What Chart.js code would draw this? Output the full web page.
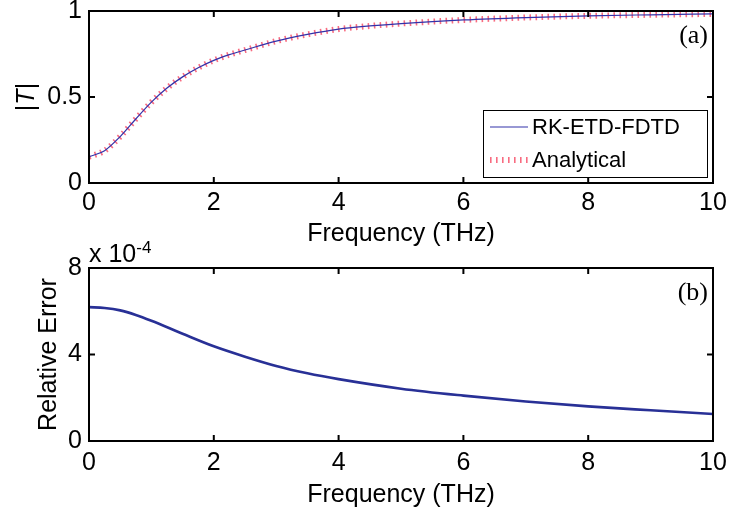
<!DOCTYPE html>
<html>
<head>
<meta charset="utf-8">
<script src="https://cdn.jsdelivr.net/npm/chart.js@4.4.0/dist/chart.umd.min.js"></script>
<style>
html, body { margin: 0; padding: 0; background: #fff; }
#wrap { position: relative; width: 730px; height: 511px; }
canvas { position: absolute; left: 0; }
</style>
</head>
<body>
<div id="wrap">
    <canvas id="chart-t" width="730" height="250" style="top:0"></canvas>
    <canvas id="chart-err" width="730" height="281" style="top:230px"></canvas>
</div>
<script>
// (a) transmission magnitude |T| vs frequency (THz)
const freqT = [0, 0.25, 0.5, 0.75, 1, 1.25, 1.5, 1.75, 2, 2.25, 2.5, 3, 3.5, 4, 4.5, 5, 6, 7, 8, 9, 10]
const rkT = [0.153, 0.188, 0.27, 0.372, 0.47, 0.552, 0.617, 0.67, 0.713, 0.746, 0.773, 0.825, 0.864, 0.895, 0.913, 0.927, 0.948, 0.962, 0.972, 0.978, 0.983]
const analyticalT = [0.153, 0.188, 0.27, 0.372, 0.47, 0.552, 0.617, 0.67, 0.713, 0.746, 0.773, 0.825, 0.864, 0.895, 0.913, 0.927, 0.948, 0.962, 0.972, 0.978, 0.983]

// (b) relative error, in units of 1e-4
const freqErr = [0, 0.25, 0.5, 0.75, 1, 1.5, 2, 2.5, 3, 3.5, 4, 5, 6, 7, 8, 9, 10]
const relErr = [6.19, 6.15, 6.04, 5.83, 5.56, 4.96, 4.38, 3.9, 3.47, 3.13, 2.86, 2.42, 2.1, 1.83, 1.6, 1.42, 1.25]

const xTicks = [0, 2, 4, 6, 8, 10]
const tTicks = [0, 0.5, 1]
const errTicks = [0, 4, 8]

const sans = "'Liberation Sans', Arial, Helvetica, sans-serif"
const serif = "'Liberation Serif', 'Times New Roman', serif"
const blue = "rgb(50,50,170)", navy = "rgb(40,48,150)", red = "rgba(245,45,75,0.7)"

const zip = (xs, ys) => xs.map((x, i) => ({ x, y: ys[i] }))

// MATLAB-style box, inward ticks, titles and legend
const frame = {
    id: "frame",
    afterDatasetsDraw(chart, args, o) {
        const { ctx, chartArea: a, scales: { x, y } } = chart
        ctx.save()
        ctx.strokeStyle = "#000"
        ctx.lineWidth = 2
        ctx.beginPath()
        for (const v of xTicks) {
            const px = x.getPixelForValue(v)
            ctx.moveTo(px, a.bottom); ctx.lineTo(px, a.bottom - 6)
            ctx.moveTo(px, a.top); ctx.lineTo(px, a.top + 6)
        }
        for (const v of o.yTicks) {
            const py = y.getPixelForValue(v)
            ctx.moveTo(a.left, py); ctx.lineTo(a.left + 6, py)
            ctx.moveTo(a.right, py); ctx.lineTo(a.right - 6, py)
        }
        ctx.stroke()
        ctx.strokeRect(a.left, a.top, a.right - a.left, a.bottom - a.top)

        ctx.fillStyle = "#000"
        ctx.textBaseline = "middle"

        // x title
        ctx.font = `25px ${sans}`
        ctx.textAlign = "center"
        ctx.fillText("Frequency (THz)", (a.left + a.right) / 2, o.xTitleY)

        // y title (rotated), built from pieces so |T| can use an italic T
        ctx.save()
        ctx.translate(o.yTitleX, (a.top + a.bottom) / 2)
        ctx.rotate(-Math.PI / 2)
        ctx.textAlign = "left"
        let w = 0
        for (const p of o.yTitle) { ctx.font = `${p.style || ""}25px ${sans}`; w += ctx.measureText(p.text).width }
        let cx = -w / 2
        for (const p of o.yTitle) {
            ctx.font = `${p.style || ""}25px ${sans}`
            ctx.fillText(p.text, cx, 0)
            cx += ctx.measureText(p.text).width
        }
        ctx.restore()

        // panel label
        ctx.font = `26px ${serif}`
        ctx.textAlign = "right"
        ctx.fillText(o.panel, a.right - 5, a.top + 25)

        // exponent label
        if (o.exponent) {
            ctx.textAlign = "left"
            ctx.textBaseline = "alphabetic"
            ctx.font = `25px ${sans}`
            ctx.fillText("x 10", a.left, a.top - 6)
            const ew = ctx.measureText("x 10").width
            ctx.font = `17px ${sans}`
            ctx.fillText(o.exponent, a.left + ew, a.top - 15)
        }

        // legend
        if (o.legend) {
            const L = o.legend
            ctx.lineWidth = 1
            ctx.strokeRect(L.x + 0.5, L.y + 0.5, L.w, L.h)
            ctx.font = `22px ${sans}`
            ctx.textAlign = "left"
            ctx.textBaseline = "middle"
            chart.data.datasets.forEach((ds, i) => {
                const ry = L.y + 17 + i * 33
                ctx.save()
                ctx.strokeStyle = ds.borderColor
                ctx.lineWidth = ds.borderWidth
                ctx.setLineDash(ds.borderDash || [])
                ctx.beginPath()
                ctx.moveTo(L.x + 7, ry); ctx.lineTo(L.x + 45, ry)
                ctx.stroke()
                ctx.restore()
                ctx.fillText(ds.label, L.x + 49, ry + 1)
            })
        }
        ctx.restore()
    }
}

function xScale(labelPad, height) {
    return {
        type: "linear", min: 0, max: 10,
        afterBuildTicks: s => { s.ticks = xTicks.map(value => ({ value })) },
        ticks: { color: "#000", font: { family: sans, size: 25 }, padding: labelPad, maxRotation: 0, autoSkip: false },
        grid: { display: false, drawTicks: false },
        border: { display: false },
        afterFit: s => { s.height = height; s.paddingLeft = 0; s.paddingRight = 0 }
    }
}

function yScale(max, ticks) {
    return {
        type: "linear", min: 0, max,
        afterBuildTicks: s => { s.ticks = ticks.map(value => ({ value })) },
        ticks: { color: "#000", font: { family: sans, size: 25 }, padding: 7, callback: v => String(v) },
        grid: { display: false, drawTicks: false },
        border: { display: false },
        afterFit: s => { s.width = 89; s.paddingTop = 0; s.paddingBottom = 0 }
    }
}

new Chart("chart-t", {
    type: "line",
    data: {
        datasets: [{
            label: "RK-ETD-FDTD",
            data: zip(freqT, rkT),
            borderColor: blue,
            borderWidth: 1.2,
            pointRadius: 0,
            cubicInterpolationMode: "monotone"
        }, {
            label: "Analytical",
            data: zip(freqT, analyticalT),
            borderColor: red,
            borderWidth: 6,
            borderDash: [1.6, 4.4],
            pointRadius: 0,
            cubicInterpolationMode: "monotone"
        }]
    },
    options: {
        responsive: false,
        animation: false,
        layout: { padding: { top: 11, right: 17, left: 0, bottom: 0 } },
        scales: {
            x: xScale(5, 67),
            y: yScale(1, tTicks)
        },
        plugins: {
            legend: { display: false },
            tooltip: { enabled: false },
            frame: {
                yTicks: tTicks,
                xTitleY: 234,
                yTitleX: 27,
                yTitle: [{ text: "|" }, { text: "T", style: "italic " }, { text: "|" }],
                panel: "(a)",
                legend: { x: 483, y: 110, w: 224, h: 67 }
            }
        }
    },
    plugins: [frame]
})

new Chart("chart-err", {
    type: "line",
    data: {
        datasets: [{
            label: "Relative Error",
            data: zip(freqErr, relErr),
            borderColor: navy,
            borderWidth: 2.6,
            pointRadius: 0,
            cubicInterpolationMode: "monotone"
        }]
    },
    options: {
        responsive: false,
        animation: false,
        layout: { padding: { top: 38, right: 17, left: 0, bottom: 0 } },
        scales: {
            x: xScale(7, 70),
            y: yScale(8, errTicks)
        },
        plugins: {
            legend: { display: false },
            tooltip: { enabled: false },
            frame: {
                yTicks: errTicks,
                xTitleY: 265,
                yTitleX: 49,
                yTitle: [{ text: "Relative Error" }],
                panel: "(b)",
                exponent: "-4"
            }
        }
    },
    plugins: [frame]
})
</script>
</body>
</html>
